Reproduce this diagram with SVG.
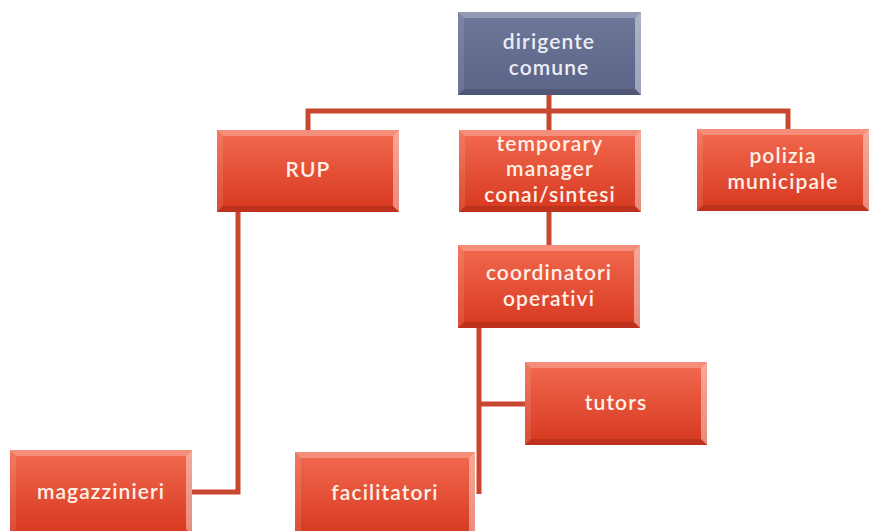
<svg xmlns="http://www.w3.org/2000/svg" width="870" height="531" viewBox="0 0 870 531">
<defs>
<linearGradient id="gRed" x1="0" y1="0" x2="0" y2="1">
<stop offset="0" stop-color="#f26a50"/>
<stop offset="1" stop-color="#d6381f"/>
</linearGradient>
<linearGradient id="gBlue" x1="0" y1="0" x2="0" y2="1">
<stop offset="0" stop-color="#6f7899"/>
<stop offset="1" stop-color="#5b6387"/>
</linearGradient>
<style>
.red{fill:url(#gRed)}
.blue{fill:url(#gBlue)}
.bt{fill:#ffffff;opacity:.25}
.br{fill:#ffffff;opacity:.42}
.bl{fill:#ffffff;opacity:.1}
.bb{fill:#000000;opacity:.12}
.t{font-family:Lato,"Open Sans","Liberation Sans",sans-serif;font-size:21px;font-weight:600;fill:#fff1e8;text-anchor:middle;letter-spacing:1.1px}
.tb{fill:#eceef6}
.c{fill:none;stroke:#c8472e;stroke-width:5}
</style>
</defs>
<rect width="870" height="531" fill="#ffffff"/>
<g id="connectors">
<polyline class="c" points="549,95 549,130"/>
<polyline class="c" points="308,130 308,111 788,111 788,130"/>
<polyline class="c" points="549,212 549,245"/>
<polyline class="c" points="238,212 238,492 192,492"/>
<polyline class="c" points="479,328 479,494"/>
<polyline class="c" points="479,404 525,404"/>
</g>
<g id="dirigente" transform="translate(458,12)">
<rect class="blue" width="183" height="83"/>
<path class="bt" d="M0,0H183L177,6H6Z"/>
<path class="br" d="M183,0V83L177,77V6Z"/>
<path class="bb" d="M0,83H183L177,77H6Z"/>
<path class="bl" d="M0,0V83L6,77V6Z"/>
<text class="t tb" x="91" y="37">dirigente</text>
<text class="t tb" x="91" y="63">comune</text>
</g>
<g id="rup" transform="translate(217,130)">
<rect class="red" width="182" height="82"/>
<path class="bt" d="M0,0H182L176,6H6Z"/>
<path class="br" d="M182,0V82L176,76V6Z"/>
<path class="bb" d="M0,82H182L176,76H6Z"/>
<path class="bl" d="M0,0V82L6,76V6Z"/>
<text class="t" x="91" y="47">RUP</text>
</g>
<g id="temporary" transform="translate(459,130)">
<rect class="red" width="182" height="82"/>
<path class="bt" d="M0,0H182L176,6H6Z"/>
<path class="br" d="M182,0V82L176,76V6Z"/>
<path class="bb" d="M0,82H182L176,76H6Z"/>
<path class="bl" d="M0,0V82L6,76V6Z"/>
<text class="t" x="91" y="21">temporary</text>
<text class="t" x="91" y="46">manager</text>
<text class="t" x="91" y="72">conai/sintesi</text>
</g>
<g id="polizia" transform="translate(697,129)">
<rect class="red" width="172" height="82"/>
<path class="bt" d="M0,0H172L166,6H6Z"/>
<path class="br" d="M172,0V82L166,76V6Z"/>
<path class="bb" d="M0,82H172L166,76H6Z"/>
<path class="bl" d="M0,0V82L6,76V6Z"/>
<text class="t" x="86" y="34">polizia</text>
<text class="t" x="86" y="60">municipale</text>
</g>
<g id="coordinatori" transform="translate(458,245)">
<rect class="red" width="182" height="83"/>
<path class="bt" d="M0,0H182L176,6H6Z"/>
<path class="br" d="M182,0V83L176,77V6Z"/>
<path class="bb" d="M0,83H182L176,77H6Z"/>
<path class="bl" d="M0,0V83L6,77V6Z"/>
<text class="t" x="91" y="35">coordinatori</text>
<text class="t" x="91" y="61">operativi</text>
</g>
<g id="tutors" transform="translate(525,362)">
<rect class="red" width="182" height="83"/>
<path class="bt" d="M0,0H182L176,6H6Z"/>
<path class="br" d="M182,0V83L176,77V6Z"/>
<path class="bb" d="M0,83H182L176,77H6Z"/>
<path class="bl" d="M0,0V83L6,77V6Z"/>
<text class="t" x="91" y="48">tutors</text>
</g>
<g id="magazzinieri" transform="translate(10,450)">
<rect class="red" width="182" height="85"/>
<path class="bt" d="M0,0H182L176,6H6Z"/>
<path class="br" d="M182,0V85L176,79V6Z"/>
<path class="bl" d="M0,0V85L6,79V6Z"/>
<text class="t" x="91" y="49">magazzinieri</text>
</g>
<g id="facilitatori" transform="translate(295,452)">
<rect class="red" width="180" height="85"/>
<path class="bt" d="M0,0H180L174,6H6Z"/>
<path class="br" d="M180,0V85L174,79V6Z"/>
<path class="bl" d="M0,0V85L6,79V6Z"/>
<text class="t" x="90" y="48">facilitatori</text>
</g>
</svg>
